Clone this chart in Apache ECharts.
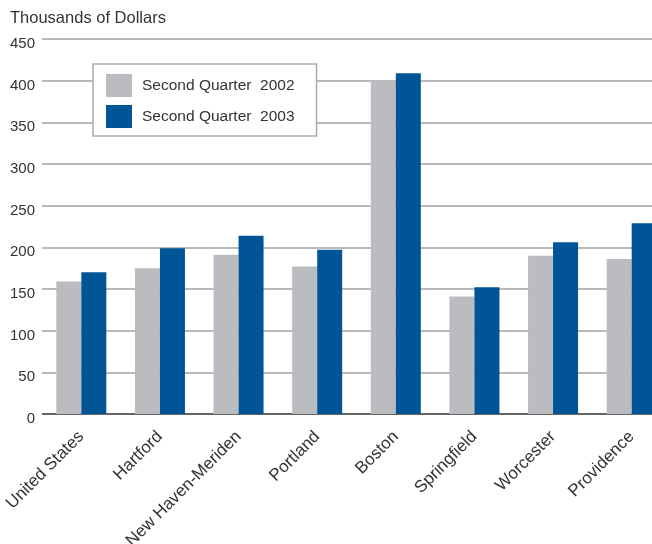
<!DOCTYPE html>
<html>
<head>
<meta charset="utf-8">
<script src="https://cdn.jsdelivr.net/npm/echarts@6/dist/echarts.min.js"></script>
<style>
html,body{margin:0;padding:0;background:#fff;overflow:hidden;}
/* chart is wider than the window so the last bar is cut off, like the original */
#main{width:671px;height:544px;}
</style>
</head>
<body>
<div id="main"></div>
<script>
// cities along the x axis
var cities = ['United States','Hartford','New Haven-Meriden','Portland','Boston','Springfield','Worcester','Providence'];
// thousands of dollars
var q2002 = [159, 175, 191, 177, 400, 141, 190, 186];
var q2003 = [170, 199, 214, 197, 409, 152, 206, 229];
var seriesNames = ['Second Quarter  2002', 'Second Quarter  2003'];
var yTicks = [0, 50, 100, 150, 200, 250, 300, 350, 400, 450];

var font = 'Liberation Sans, Arial, Helvetica, sans-serif';
var myChart = echarts.init(document.getElementById('main'));

var option = {
    animation: false,
    backgroundColor: '#fff',
    textStyle: {fontFamily: font},
    grid: {left: 42, right: 0, top: 39, bottom: 130, containLabel: false, outerBoundsMode: 'none'},
    legend: {
        orient: 'vertical',
        left: 93,
        top: 64,
        padding: [10, 22, 8, 13],
        itemGap: 8,
        itemWidth: 26,
        itemHeight: 23,
        backgroundColor: '#fff',
        borderColor: '#aaaaaa',
        borderWidth: 1.5,
        borderRadius: 0,
        textStyle: {fontFamily: font, fontSize: 15.5, color: '#333', padding: [0, 0, 0, 5]},
        data: [
            {name: seriesNames[0], icon: 'rect'},
            {name: seriesNames[1], icon: 'rect'}
        ]
    },
    xAxis: {
        type: 'category',
        data: cities,
        axisLine: {show: false},
        axisTick: {show: false},
        axisLabel: {
            rotate: 45,
            margin: 20,
            interval: 0,
            fontSize: 17,
            color: '#333',
            fontFamily: font
        }
    },
    yAxis: {
        type: 'value',
        min: 0,
        max: 450,
        interval: 50,
        name: 'Thousands of Dollars',
        nameLocation: 'end',
        nameGap: 12,
        nameTextStyle: {fontSize: 16.5, color: '#333', fontFamily: font, align: 'left', padding: [0, 0, 0, -32]},
        axisLine: {show: false},
        axisTick: {show: false},
        axisLabel: {
            fontSize: 15,
            color: '#333',
            margin: 7,
            verticalAlign: 'top',
            lineHeight: 10,
            fontFamily: font,
            formatter: function (v) { return yTicks.indexOf(v) >= 0 ? String(v) : ''; }
        },
        splitLine: {lineStyle: {color: '#a3a3a3', width: 1.5}}
    },
    series: [
        {
            name: seriesNames[0],
            type: 'bar',
            data: q2002,
            barWidth: 25,
            barGap: '0%',
            itemStyle: {color: '#bbbcc0'},
            z: 3
        },
        {
            name: seriesNames[1],
            type: 'bar',
            data: q2003,
            barWidth: 25,
            itemStyle: {color: '#005596'},
            z: 3,
            markLine: {
                silent: true,
                symbol: 'none',
                label: {show: false},
                lineStyle: {color: '#666', width: 2, type: 'solid'},
                data: [{yAxis: 0}],
                z: 1
            }
        }
    ]
};
myChart.setOption(option);
</script>
</body>
</html>
